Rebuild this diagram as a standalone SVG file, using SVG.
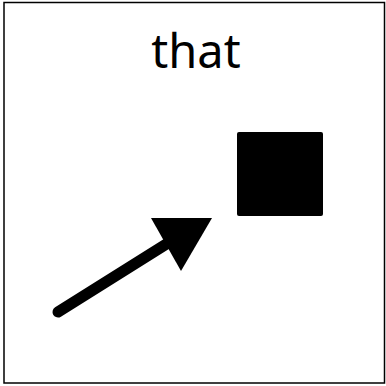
<svg xmlns="http://www.w3.org/2000/svg" width="386" height="386" viewBox="0 0 386 386">
<style>
.lbl{font-family:"Noto Sans","Open Sans",sans-serif;font-size:47px;fill:#000}
</style>
<rect x="4" y="2.5" width="380.5" height="380.5" fill="#fff" stroke="#000" stroke-width="1.5"/>
<g id="title"><text class="lbl" x="196" y="68" text-anchor="middle">that</text></g>
<g id="box"><rect x="237" y="132" width="86" height="84" rx="2" fill="#000"/></g>
<g id="connectors">
<line x1="58" y1="312" x2="168" y2="243" stroke="#000" stroke-width="11" stroke-linecap="round"/>
<polygon points="212,218 151,218 181,271" fill="#000"/>
</g>
</svg>
